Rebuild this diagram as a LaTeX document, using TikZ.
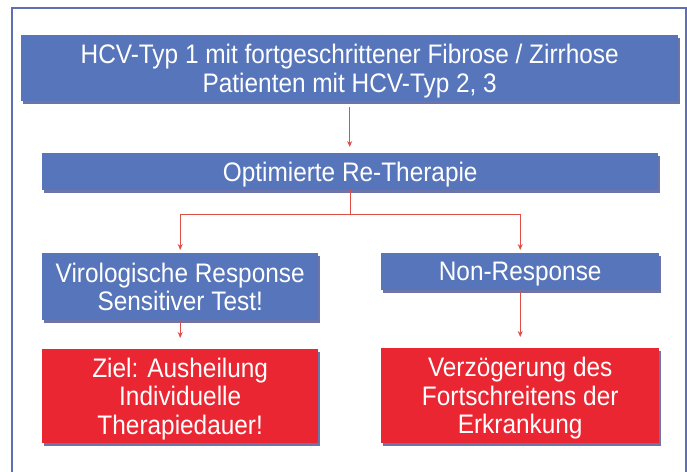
\documentclass[tikz,border=0pt]{standalone}
\usepackage{fontspec}
\setmainfont{Liberation Sans}[FakeStretch=0.91]
\usetikzlibrary{arrows.meta,shadows,positioning}
\definecolor{boxblue}{RGB}{87,117,187}
\definecolor{boxred}{RGB}{234,38,50}
\definecolor{linered}{RGB}{222,78,70}
\definecolor{frameblue}{RGB}{96,110,180}
\definecolor{shadowblue}{RGB}{60,70,140}
\begin{document}
\begin{tikzpicture}[x=1pt,y=-1pt,>={Stealth[length=6pt,width=5pt]},
		box/.style={rectangle, text=white, align=center, anchor=north west, inner sep=0pt,
			font=\fontsize{26.8}{28.5}\selectfont, text depth=0pt,
			drop shadow={shadow xshift=2pt, shadow yshift=-3pt, fill=shadowblue, opacity=0.75}},
		bluebox/.style={box, fill=boxblue},
		redbox/.style={box, fill=boxred},
		conn/.style={draw=linered, line width=1.4pt}]
		\useasboundingbox (0,0) rectangle (687,471);
		\draw[frameblue, line width=1.2pt] (12,480) -- (12,8) -- (686,8) -- (686,480);
		
		% boxes
		\node[bluebox, minimum width=657pt, minimum height=66pt] (hcv) at (21,35)
			{HCV-Typ 1 mit fortgeschrittener Fibrose / Zirrhose\\Patienten mit HCV-Typ 2, 3};
		\node[bluebox, minimum width=616pt, minimum height=37pt] (opt) at (42,153) {Optimierte Re-Therapie};
		\node[bluebox, minimum width=276pt, minimum height=67pt] (vir) at (42,253)
			{Virologische Response\\Sensitiver Test!};
		\node[bluebox, minimum width=278pt, minimum height=37pt] (nonr) at (381,253) {Non-Response};
		\node[redbox, minimum width=276pt, minimum height=94pt] (ziel) at (42,349)
			{Ziel: Ausheilung\\Individuelle\\Therapiedauer!};
		\node[redbox, minimum width=278pt, minimum height=95pt] (verz) at (381,348)
			{Verzögerung des\\Fortschreitens der\\Erkrankung};
		
		% connectors
		\draw[conn, ->, shorten <=6pt, shorten >=6pt] (hcv.south) -- (hcv.south |- opt.north);
		\draw[conn] (opt.south) -- ++(0,24) coordinate (fork);
		\draw[conn, ->, shorten >=3pt] (fork) -| (vir.north);
		\draw[conn, ->, shorten >=3pt] (fork) -| (nonr.north);
		\draw[conn, ->, shorten <=2pt, shorten >=11pt] (vir.south) -- (ziel.north);
		\draw[conn, ->, shorten <=2pt, shorten >=11pt] (nonr.south) -- (verz.north);
	\end{tikzpicture}
\end{document}
